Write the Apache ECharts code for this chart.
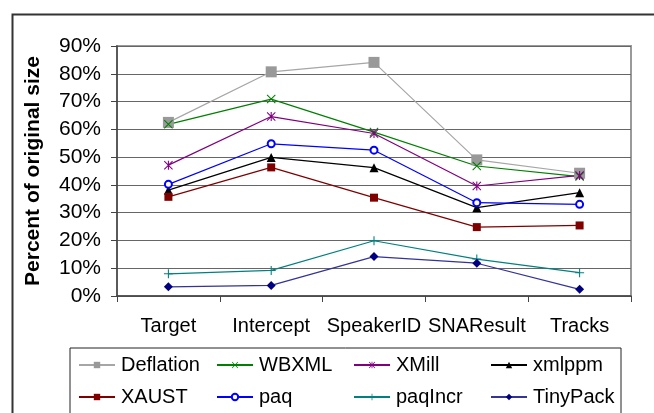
<!DOCTYPE html>
<html><head><meta charset="utf-8">
<script src="https://cdn.jsdelivr.net/npm/echarts@6/dist/echarts.min.js"></script>
<style>html,body{margin:0;padding:0;background:#fff}#c{width:654px;height:413px}</style>
</head><body><div id="c"></div>
<script>
const categories = ['Target','Intercept','SpeakerID','SNAResult','Tracks'];
const yTicks = [0,10,20,30,40,50,60,70,80,90];
const deflation = [62.5, 80.7, 84.1, 49.0, 44.2];
const wbxml     = [61.8, 70.9, 59.0, 46.8, 43.0];
const xmill     = [47.1, 64.6, 58.5, 39.6, 43.4];
const xmlppm    = [38.1, 49.9, 46.2, 31.8, 37.2];
const xaust     = [35.7, 46.3, 35.4, 24.8, 25.4];
const paq       = [40.2, 54.8, 52.5, 33.6, 33.0];
const paqIncr   = [8.0, 9.2, 19.9, 13.3, 8.4];
const tinyPack  = [3.3, 3.8, 14.2, 11.8, 2.4];

const X = 'path://M0.8,0L10,9.2L9.2,10L0,0.8ZM10,0.8L0.8,10L0,9.2L9.2,0Z';
const PLUS = 'path://M4.4,0L5.6,0L5.6,10L4.4,10ZM0,4.4L10,4.4L10,5.6L0,5.6Z';
const STAR = 'path://M0.8,0L10,9.2L9.2,10L0,0.8ZM10,0.8L0.8,10L0,9.2L9.2,0ZM4.4,0L5.6,0L5.6,10L4.4,10Z';

const seriesDefs = [
  {name:'Deflation', data:deflation, color:'#999999', line:'#a6a6a6', symbol:'rect', size:11},
  {name:'WBXML', data:wbxml, color:'#008000', line:'#008000', symbol:X, size:9},
  {name:'XMill', data:xmill, color:'#800080', line:'#800080', symbol:STAR, size:9},
  {name:'xmlppm', data:xmlppm, color:'#000000', line:'#000000', symbol:'triangle', size:9},
  {name:'XAUST', data:xaust, color:'#800000', line:'#800000', symbol:'rect', size:8},
  {name:'paq', data:paq, color:'#0000ff', line:'#0000ff', symbol:'emptyCircle', size:7},
  {name:'paqIncr', data:paqIncr, color:'#008080', line:'#008080', symbol:PLUS, size:9},
  {name:'TinyPack', data:tinyPack, color:'#000080', line:'#333399', symbol:'diamond', size:9}
];

const font = 'Liberation Sans, Arial, sans-serif';
const chart = echarts.init(document.getElementById('c'), null, {renderer:'canvas'});

const colX = [78, 216, 353, 490];
const rowY = [355, 387];
const legends = seriesDefs.map((s, i) => ({
  orient:'horizontal', left: colX[i % 4], top: rowY[Math.floor(i / 4)],
  itemWidth: 36, itemHeight: 8, itemGap: 0, padding:0,
  textStyle:{fontFamily:font, fontSize:20, color:'#000', padding:[0,0,0,1]},
  data:[s.name], selectedMode:false
}));

chart.setOption({
  animation:false,
  backgroundColor:'#fff',
  grid:{left:117, top:46, width:514, height:250, show:true, borderColor:'#9a9a9a', borderWidth:2, backgroundColor:'transparent'},
  legend: legends,
  xAxis:{
    type:'category', data:categories, boundaryGap:true,
    axisLine:{lineStyle:{color:'#444', width:1.5}},
    axisTick:{show:true, length:6, inside:false, lineStyle:{color:'#444'}},
    axisLabel:{fontFamily:font, fontSize:20, color:'#000', margin:20, interval:0, hideOverlap:false}
  },
  yAxis:{
    type:'value', min:yTicks[0], max:yTicks[yTicks.length-1], interval:10,
    axisLine:{show:true, lineStyle:{color:'#444', width:1.5}},
    axisTick:{show:true, length:6, lineStyle:{color:'#444'}},
    axisLabel:{fontFamily:font, fontSize:21, color:'#000', margin:16, formatter: v => v + '%'},
    splitLine:{show:true, lineStyle:{color:'#666', width:1.2}},
    name:'Percent of original size', nameLocation:'middle', nameGap:73,
    nameTextStyle:{fontFamily:font, fontSize:21, fontWeight:'bold', color:'#000'}
  },
  series: seriesDefs.map(s => ({
    name:s.name, type:'line', data:s.data,
    symbol:s.symbol, symbolSize:s.size, showSymbol:true,
    lineStyle:{color:s.line, width:1.2},
    itemStyle:{color:s.color, borderColor:s.color, borderWidth: s.symbol==='emptyCircle'?1.2:0},
    emphasis:{disabled:true}
  })),
  graphic:[
    {type:'rect', left:10, top:12, shape:{width:660, height:420}, style:{fill:'none', stroke:'#333', lineWidth:2}, silent:true},
    {type:'rect', shape:{x:70, y:348, width:551, height:100}, style:{fill:'none', stroke:'#222', lineWidth:1}, silent:true}
  ]
});
</script></body></html>
